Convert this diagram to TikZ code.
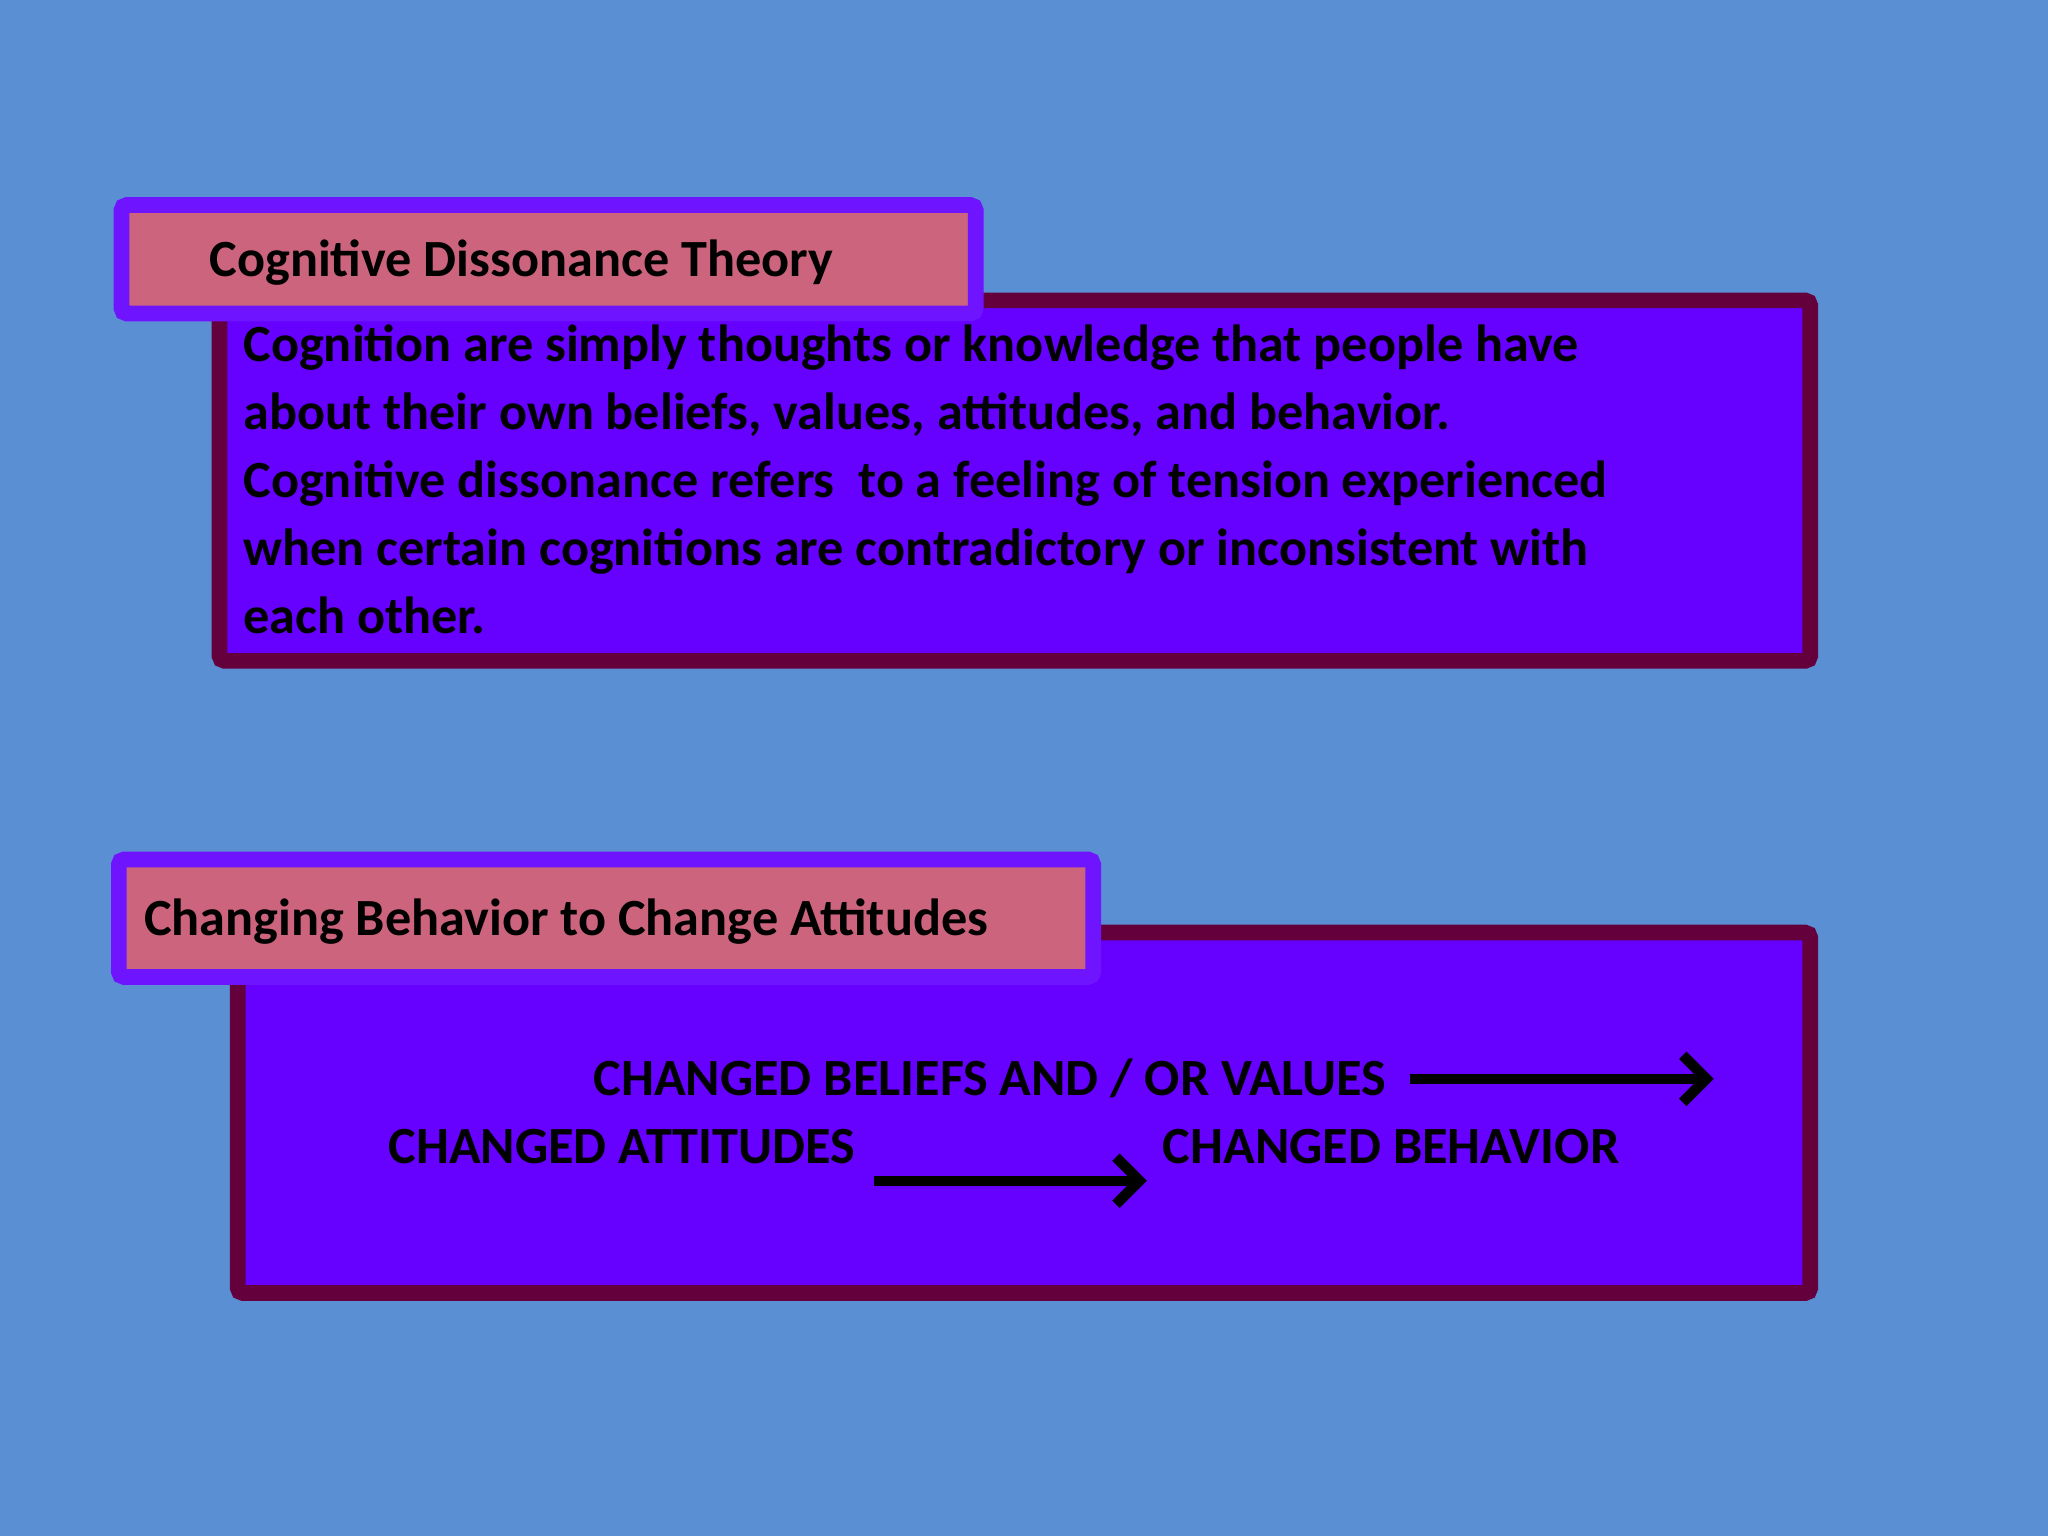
\documentclass[tikz,border=0pt]{standalone}
\usepackage{fontspec}
\setmainfont{Carlito}
\usetikzlibrary{arrows.meta}
\definecolor{bg}{RGB}{91,143,212}
\definecolor{boxfill}{RGB}{102,0,255}
\definecolor{boxedge}{RGB}{100,0,60}
\definecolor{tedge}{RGB}{110,20,255}
\definecolor{tfill}{RGB}{205,100,125}
\tikzset{
  bigbox/.style={draw=boxedge,fill=boxfill,line width=6pt,rounded corners=2pt},
  titlebox/.style={draw=tedge,fill=tfill,line width=6pt,rounded corners=2pt},
  txt/.style={anchor=base west,inner sep=0pt,font=\fontsize{20}{26}\selectfont\bfseries,text=black},
  arr/.style={line width=4pt,-{Straight Barb[length=9pt,width=18pt,line width=4pt]}}
}
\begin{document}
\begin{tikzpicture}[x=0.5pt,y=-0.5pt]
\fill[bg] (0,0) rectangle (1568,1176);
\useasboundingbox (0,0) rectangle (1568,1176);
% box 1
\draw[bigbox] (168,230) rectangle (1386,506);
\draw[titlebox] (93,157) rectangle (747,240);
\node[txt] (t1) at (160,212) {Cognitive Dissonance Theory};
\node[txt] (l1) at (186,277) {Cognition are simply thoughts or knowledge that people have};
\node[txt] (l2) at (186,329) {about their own beliefs, values, attitudes, and behavior.};
\node[txt] (l3) at (186,381) {Cognitive dissonance refers\ \ to a feeling of tension experienced};
\node[txt] (l4) at (186,433) {when certain cognitions are contradictory or inconsistent with};
\node[txt] (l5) at (186,485) {each other.};
% box 2
\draw[bigbox] (182,714) rectangle (1386,990);
\draw[titlebox] (91,658) rectangle (837,748);
\node[txt] (t2) at (110,716) {Changing Behavior to Change Attitudes};
\node[txt] (bel) at (454,839) {CHANGED BELIEFS AND / OR VALUES};
\coordinate (belend) at (1312,826);
\node[txt] (att) at (297,891) {CHANGED ATTITUDES};
\node[txt] (beh) at (890,891) {CHANGED BEHAVIOR};
\draw[arr] (bel.east|-belend) ++(18,0) -- (belend);
\draw[arr] ([xshift=7pt,yshift=-6.5pt]att.base east) -- ([xshift=-6pt,yshift=-6.5pt]beh.base west);
\end{tikzpicture}
\end{document}
